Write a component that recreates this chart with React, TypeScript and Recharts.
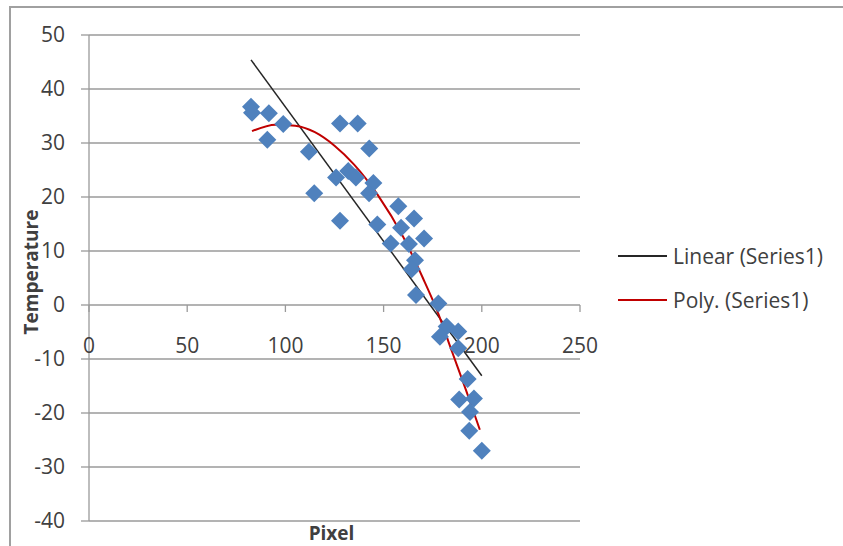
import { CartesianGrid, ComposedChart, Legend, Line, Scatter, XAxis, YAxis } from "recharts";

// Points
const pixel = [
  82.5, 83, 91.6, 98.9, 90.8, 112, 114.7, 127.8, 127.8, 125.8, 136.8, 142.7, 132, 135.9, 144.8, 142.6, 157.5,
  146.8, 165.5, 158.9, 170.6, 153.6, 162.9, 166, 164.3, 166.5, 177.9, 182.1, 178.7, 188, 188, 192.8, 188.5, 196,
  194, 193.6, 200,
];
const temperature = [
  36.7, 35.6, 35.5, 33.5, 30.6, 28.4, 20.7, 33.6, 15.6, 23.6, 33.6, 29.0, 24.8, 23.6, 22.6, 20.7, 18.3, 14.9, 16.0,
  14.3, 12.3, 11.4, 11.3, 8.3, 6.6, 1.85, 0.3, -4.0, -5.9, -4.9, -8.0, -13.7, -17.5, -17.3, -19.8, -23.3, -27.0,
];

// Courbes de tendance
const linearX = [82.5, 200];
const linearY = [45.4, -13.1];
const polyX = [83, 95, 105, 115, 125, 135, 147, 160, 170, 177, 185, 192, 199];
const polyY = [32.2, 33.4, 33.2, 32.0, 29.5, 26.0, 20.4, 12.6, 5.0, -0.8, -8.8, -15.8, -23.1];

const xTicks = [0, 50, 100, 150, 200, 250];
const yTicks = [-40, -30, -20, -10, 0, 10, 20, 30, 40, 50];
const legendNames = ["Linear (Series1)", "Poly. (Series1)"];
const legendColors = ["#262626", "#c00000"];

const W = 843;
const H = 546;
const M = { top: 35, right: 263, left: 29, bottom: 0 };
const X_AXIS_H = 25;
const PLOT_H = H - M.top - M.bottom - X_AXIS_H;
const Y_MIN = yTicks[0];
const Y_MAX = yTicks[yTicks.length - 1];
const ZERO_Y = M.top + (PLOT_H * Y_MAX) / (Y_MAX - Y_MIN);

const FONT = "'Open Sans', sans-serif";
const TEXT = "#404040";
const GRID = "#9a9a9a";

const points = pixel.map((x, i) => ({ x, y: temperature[i] }));
const linear = linearX.map((x, i) => ({ x, y: linearY[i] }));
const poly = polyX.map((x, i) => ({ x, y: polyY[i] }));

const Diamond = (p: any) => {
  const { cx, cy } = p;
  if (cx == null || cy == null) return <g />;
  const r = 9;
  return <path d={`M${cx},${cy - r}L${cx + r},${cy}L${cx},${cy + r}L${cx - r},${cy}Z`} fill="#4f81bd" />;
};

// axe X croisant à 0 : tick + libellé sous la ligne du zéro
const XTick = (p: any) => {
  const { x, payload } = p;
  return (
    <g>
      <line x1={x} x2={x} y1={ZERO_Y} y2={ZERO_Y + 7} stroke={GRID} strokeWidth={1.3} />
      <text x={x} y={ZERO_Y + 40} textAnchor="middle" dominantBaseline="central" fill={TEXT} fontSize={21} fontFamily={FONT}>
        {payload.value}
      </text>
    </g>
  );
};

const renderLegend = () => (
  <div style={{ fontFamily: FONT, fontSize: 21, color: TEXT }}>
    {legendNames.map((n, i) => (
      <div key={n} style={{ display: "flex", alignItems: "center", height: 44 }}>
        <span style={{ display: "inline-block", width: 49, height: 0, borderTop: `2px solid ${legendColors[i]}`, marginRight: 6 }} />
        <span>{n}</span>
      </div>
    ))}
  </div>
);

export default function App() {
  return (
    <div style={{ position: "absolute", left: 0, top: 0, width: W, height: H, overflow: "hidden", background: "#fff" }}>
      <div
        style={{
          position: "absolute",
          left: 9,
          top: 6,
          width: W,
          height: H,
          borderLeft: "2px solid #a0a0a0",
          borderTop: "2px solid #a0a0a0",
        }}
      />
      <ComposedChart width={W} height={H} margin={M} style={{ position: "absolute", left: 0, top: 0 }}>
        <CartesianGrid horizontal vertical={false} stroke={GRID} strokeWidth={1.3} />
        <XAxis
          type="number"
          dataKey="x"
          domain={[0, 250]}
          ticks={xTicks}
          axisLine={false}
          tickLine={false}
          tick={<XTick />}
          height={X_AXIS_H}
          interval={0}
          allowDuplicatedCategory={false}
          label={{
            content: (props: any) => {
              const vb = props.viewBox;
              return (
                <text x={vb.x + vb.width / 2 - 3} y={533} textAnchor="middle" dominantBaseline="central" fill={TEXT} fontSize={19} fontWeight="bold" fontFamily={FONT}>
                  Pixel
                </text>
              );
            },
          }}
        />
        <YAxis
          type="number"
          dataKey="y"
          domain={[Y_MIN, Y_MAX]}
          ticks={yTicks}
          interval={0}
          width={60}
          stroke={GRID}
          axisLine={{ stroke: GRID, strokeWidth: 1.3 }}
          tickLine={{ stroke: GRID, strokeWidth: 1.3 }}
          tickSize={8}
          tickMargin={16}
          tick={{ fill: TEXT, fontSize: 21, fontFamily: FONT }}
          label={{
            content: () => (
              <text
                x={31}
                y={272}
                transform="rotate(-90, 31, 272)"
                textAnchor="middle"
                dominantBaseline="central"
                fill={TEXT}
                fontSize={19}
                fontWeight="bold"
                fontFamily={FONT}
              >
                Temperature
              </text>
            ),
          }}
        />
        <Scatter data={points} dataKey="y" shape={<Diamond />} isAnimationActive={false} legendType="none" />
        <Line
          data={linear}
          dataKey="y"
          type="linear"
          stroke={legendColors[0]}
          strokeWidth={1.5}
          dot={false}
          activeDot={false}
          isAnimationActive={false}
          legendType="none"
        />
        <Line
          data={poly}
          dataKey="y"
          type="monotone"
          stroke={legendColors[1]}
          strokeWidth={2}
          dot={false}
          activeDot={false}
          isAnimationActive={false}
          legendType="none"
        />
        <Legend
          layout="vertical"
          align="center"
          verticalAlign="middle"
          content={renderLegend}
          wrapperStyle={{ left: 618, top: 234, width: 225, height: 88 }}
        />
      </ComposedChart>
    </div>
  );
}
